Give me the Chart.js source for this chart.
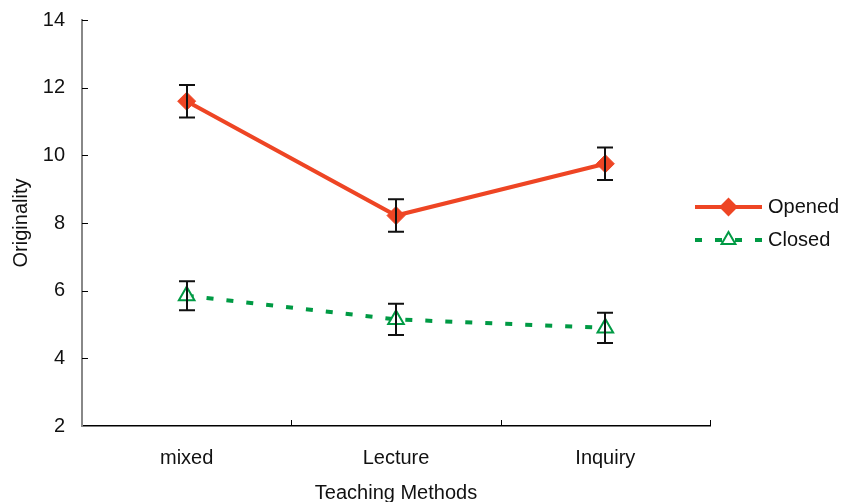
<!DOCTYPE html>
<html>
<head>
<meta charset="utf-8">
<script src="https://cdn.jsdelivr.net/npm/chart.js@4/dist/chart.umd.min.js"></script>
<style>
  html, body { margin: 0; padding: 0; background: #fff; }
  #wrap { width: 843px; height: 502px; }
</style>
</head>
<body>
<div id="wrap"><canvas id="myChart" width="843" height="502"></canvas></div>
<script>
var categories = ["mixed", "Lecture", "Inquiry"];
var openedMeans = [11.6, 8.22, 9.75];
var openedErr = [0.48, 0.48, 0.48];
var closedMeans = [5.85, 5.15, 4.9];
var closedErr = [0.43, 0.46, 0.45];
var seriesNames = ["Opened", "Closed"];

var RED = "#EE4524";
var GREEN = "#009A44";
var FONT = "'Liberation Sans', Arial, sans-serif";
var FSIZE = 20;

// error bars, inward ticks and the side legend
var extras = {
  id: 'extras',
  afterDatasetsDraw: function(chart) {
    var c = chart.ctx;
    var x = chart.scales.x, y = chart.scales.y;
    var area = chart.chartArea;

    c.save();
    // y ticks (pointing inward)
    c.strokeStyle = "#000";
    c.lineWidth = 1;
    for (var v = 4; v <= 14; v += 2) {
      var py = Math.round(y.getPixelForValue(v)) + 0.5;
      c.beginPath();
      c.moveTo(area.left, py);
      c.lineTo(area.left + 6, py);
      c.stroke();
    }
    // x ticks between categories
    var step = x.getPixelForValue(1) - x.getPixelForValue(0);
    for (var i = 0; i < categories.length; i++) {
      var px = Math.round(x.getPixelForValue(i) + step / 2) + 0.5;
      c.beginPath();
      c.moveTo(px, area.bottom);
      c.lineTo(px, area.bottom - 6);
      c.stroke();
    }

    // error bars
    c.lineWidth = 2;
    c.strokeStyle = "#111";
    [[openedMeans, openedErr], [closedMeans, closedErr]].forEach(function(s) {
      s[0].forEach(function(m, i) {
        var px = Math.round(x.getPixelForValue(i));
        var top = y.getPixelForValue(m + s[1][i]);
        var bot = y.getPixelForValue(m - s[1][i]);
        c.beginPath();
        c.moveTo(px, top); c.lineTo(px, bot);
        c.moveTo(px - 8, top); c.lineTo(px + 8, top);
        c.moveTo(px - 8, bot); c.lineTo(px + 8, bot);
        c.stroke();
      });
    });

    // legend
    var lx = 695, lw = 67;
    var rows = [
      { name: seriesNames[0], y: 207, color: RED, dash: [], style: 'rectRot', fill: RED },
      { name: seriesNames[1], y: 240, color: GREEN, dash: [7, 13], style: 'triangle', fill: '#fff' }
    ];
    rows.forEach(function(r) {
      c.save();
      c.strokeStyle = r.color;
      c.lineWidth = 4;
      c.setLineDash(r.dash);
      c.beginPath();
      c.moveTo(lx, r.y); c.lineTo(lx + lw, r.y);
      c.stroke();
      c.restore();
      c.save();
      c.strokeStyle = r.color;
      c.fillStyle = r.fill;
      c.lineWidth = 2;
      Chart.helpers.drawPoint(c, { pointStyle: r.style, radius: 8, borderWidth: 2 }, lx + lw / 2, r.y);
      c.restore();
      c.fillStyle = "#111";
      c.font = FSIZE + "px " + FONT;
      c.textBaseline = "middle";
      c.textAlign = "left";
      c.fillText(r.name, lx + lw + 6, r.y);
    });
    c.restore();
  }
};

var ctx = document.getElementById("myChart");
var myChart = new Chart(ctx, {
  type: 'line',
  data: {
    labels: categories,
    datasets: [{
      label: seriesNames[0],
      data: openedMeans,
      borderColor: RED,
      backgroundColor: RED,
      borderWidth: 4,
      pointStyle: 'rectRot',
      pointRadius: 9,
      pointBorderWidth: 1,
      pointBackgroundColor: RED,
      pointBorderColor: RED,
      tension: 0
    }, {
      label: seriesNames[1],
      data: closedMeans,
      borderColor: GREEN,
      backgroundColor: '#fff',
      borderWidth: 4,
      borderDash: [7, 13],
      borderCapStyle: 'butt',
      pointStyle: 'triangle',
      pointRadius: 9,
      pointBorderWidth: 2,
      pointBackgroundColor: 'rgba(255,255,255,0.9)',
      pointBorderColor: GREEN,
      tension: 0
    }]
  },
  options: {
    responsive: false,
    animation: false,
    layout: { padding: { left: 0, right: 133, top: 20, bottom: 0 } },
    plugins: {
      legend: { display: false },
      tooltip: { enabled: false }
    },
    scales: {
      x: {
        offset: true,
        grid: { display: false, drawTicks: false },
        border: { display: true, color: "#000", width: 1.5 },
        ticks: { color: "#111", font: { family: FONT, size: FSIZE }, padding: 20 },
        title: { display: true, text: "Teaching Methods", color: "#111", font: { family: FONT, size: FSIZE }, padding: { top: 0, bottom: -3 } },
        afterFit: function(s) { s.height = 76; }
      },
      y: {
        min: 2,
        max: 14,
        ticks: { stepSize: 2, color: "#111", font: { family: FONT, size: FSIZE }, padding: 17 },
        grid: { display: false, drawTicks: false },
        border: { display: true, color: "#888", width: 2 },
        title: { display: true, text: "Originality", color: "#111", font: { family: FONT, size: FSIZE }, padding: { top: 9, bottom: 0 } },
        afterFit: function(s) { s.width = 82; s.paddingTop = 0; s.paddingBottom = 0; }
      }
    }
  },
  plugins: [extras]
});
</script>
</body>
</html>
